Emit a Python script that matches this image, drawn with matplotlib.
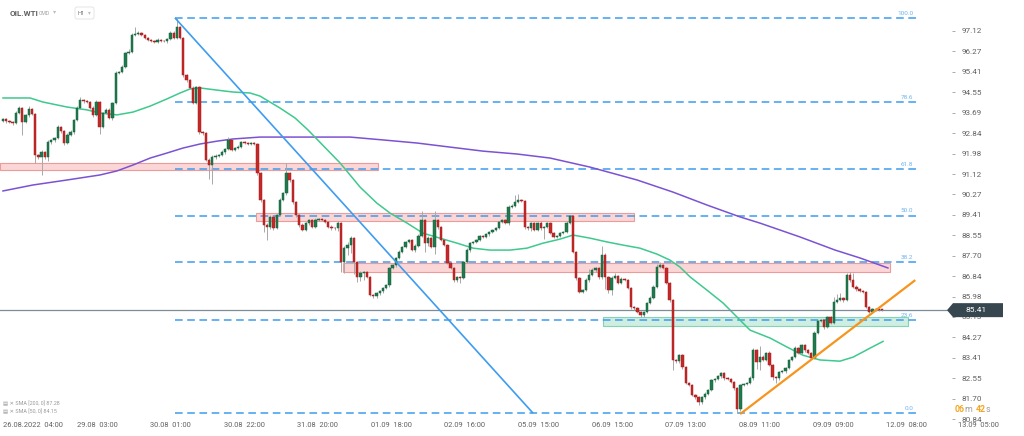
import matplotlib
matplotlib.use("Agg")
import matplotlib.pyplot as plt
from matplotlib.patches import Rectangle, Polygon, FancyBboxPatch
from matplotlib.transforms import blended_transform_factory, IdentityTransform

plt.rcParams['font.family'] = ['Roboto', 'DejaVu Sans']

W, H, DPI = 1024, 436, 100

# ---------------- data ----------------
symbol = "OIL.WTI"
market = "CMD"
interval = "H1"

first_open = 93.34
closes = [
    93.43, 93.34, 93.30, 93.26, 93.68, 93.89, 93.30, 93.60, 93.85, 93.64,
    91.92, 91.83, 92.04, 91.83, 92.46, 92.55, 92.63, 93.09, 92.92, 92.42,
    92.76, 92.88, 93.39, 93.89, 94.22, 94.18, 94.14, 93.89, 93.60, 94.14,
    93.09, 93.68, 93.81, 93.47, 94.10, 95.36, 95.40, 95.61, 96.20, 96.24,
    96.95, 96.99, 97.04, 96.95, 96.83, 96.74, 96.70, 96.66, 96.74, 96.70,
    96.69, 96.78, 97.04, 96.83, 97.29, 96.83, 95.27, 95.06, 94.73, 94.10,
    94.77, 92.88, 92.84, 91.71, 91.50, 91.83, 91.88, 91.92, 92.04, 92.17,
    92.55, 92.13, 92.21, 92.25, 92.46, 92.42, 92.40, 92.42, 92.38, 91.16,
    90.03, 88.98, 88.90, 89.32, 88.85, 89.40, 90.03, 90.32, 91.16, 90.87,
    89.94, 89.40, 88.98, 88.77, 89.06, 89.19, 88.90, 89.19, 89.23, 89.19,
    89.11, 88.90, 88.85, 88.84, 89.06, 87.43, 88.01, 88.14, 88.43, 87.43,
    86.80, 86.97, 87.01, 86.80, 86.04, 86.00, 86.13, 86.21, 86.34, 86.46,
    87.18, 87.30, 87.60, 87.85, 88.06, 88.27, 88.35, 87.93, 88.10, 88.52,
    89.19, 88.22, 88.43, 88.06, 89.19, 88.90, 88.35, 88.14, 87.39, 87.18,
    86.67, 86.80, 86.76, 87.43, 87.93, 88.22, 88.27, 88.35, 88.52, 88.48,
    88.60, 88.69, 88.77, 88.85, 89.11, 89.19, 89.06, 89.74, 89.78, 89.94,
    90.03, 89.99, 88.90, 88.85, 89.06, 88.77, 89.06, 88.85, 88.90, 89.06,
    88.64, 88.48, 88.52, 88.64, 88.69, 89.06, 89.36, 87.85, 86.76, 86.17,
    86.25, 86.67, 86.88, 87.09, 87.18, 86.80, 87.72, 86.80, 86.25, 86.76,
    86.84, 86.55, 86.71, 86.67, 86.34, 85.54, 85.50, 85.33, 85.20, 85.33,
    85.71, 85.92, 86.38, 87.22, 87.30, 87.18, 86.55, 85.83, 83.32, 83.28,
    83.53, 83.02, 82.35, 82.27, 81.85, 81.76, 81.55, 81.76, 81.89, 82.06,
    82.48, 82.52, 82.64, 82.77, 82.56, 82.52, 82.39, 82.14, 81.26, 82.27,
    82.31, 82.35, 82.56, 83.73, 83.23, 83.44, 83.32, 83.61, 83.11, 82.60,
    82.56, 82.81, 82.85, 82.98, 83.32, 83.44, 83.82, 83.61, 83.94, 83.73,
    83.61, 83.40, 84.45, 84.95, 84.99, 84.70, 85.12, 84.87, 85.75, 85.83,
    85.92, 85.83, 86.88, 86.67, 86.38, 86.29, 86.21, 86.17, 85.54, 85.33,
    85.46, 85.44, 85.42, 85.41,
]
wick_up = [
    0.05,0.04,0.06,0.05,0.08,0.10,0.06,0.05,0.12,0.06,0.05,0.06,0.10,0.05,0.08,0.06,0.05,0.10,0.06,0.05,
    0.06,0.08,0.05,0.10,0.12,0.06,0.05,0.06,0.08,0.10,0.06,0.05,0.08,0.06,0.05,0.10,0.06,0.08,0.05,0.12,
    0.10,0.30,0.06,0.05,0.06,0.05,0.06,0.05,0.08,0.06,0.05,0.06,0.10,0.08,0.38,0.06,0.05,0.06,0.05,0.10,
    0.06,0.05,0.06,0.05,0.10,0.08,0.06,0.05,0.10,0.06,0.12,0.06,0.05,0.08,0.05,0.06,0.05,0.06,0.05,0.06,
    0.06,0.05,0.08,0.10,0.06,0.05,0.08,0.06,0.42,0.06,0.05,0.06,0.05,0.08,0.06,0.05,0.06,0.08,0.05,0.06,
    0.05,0.06,0.08,0.05,0.10,0.06,0.08,0.12,0.10,0.06,0.05,0.08,0.06,0.05,0.06,0.05,0.06,0.05,0.06,0.05,
    0.06,0.05,0.06,0.08,0.05,0.06,0.05,0.06,0.08,0.10,0.40,0.06,0.08,0.06,0.38,0.06,0.05,0.06,0.05,0.06,
    0.05,0.06,0.05,0.06,0.08,0.05,0.06,0.05,0.06,0.05,0.06,0.05,0.06,0.05,0.06,0.05,0.06,0.10,0.08,0.30,
    0.25,0.06,0.05,0.06,0.05,0.06,0.05,0.08,0.06,0.05,0.06,0.05,0.06,0.05,0.06,0.08,0.06,0.05,0.06,0.05,
    0.06,0.10,0.25,0.08,0.06,0.05,0.40,0.08,0.06,0.10,0.12,0.06,0.08,0.05,0.06,0.05,0.06,0.05,0.06,0.05,
    0.06,0.08,0.10,0.12,0.15,0.06,0.05,0.06,0.05,0.06,0.05,0.06,0.05,0.06,0.05,0.06,0.05,0.06,0.08,0.06,
    0.05,0.06,0.05,0.06,0.05,0.06,0.05,0.06,0.05,0.06,0.05,0.06,0.08,0.10,0.06,0.45,0.08,0.06,0.10,0.06,
    0.05,0.06,0.05,0.06,0.05,0.06,0.08,0.06,0.05,0.06,0.05,0.06,0.08,0.06,0.05,0.06,0.05,0.06,0.20,0.25,
    0.20,0.06,0.10,0.15,0.30,0.10,0.06,0.05,0.06,0.05,0.06,0.05,0.04,0.04,
]
wick_dn = [
    0.05,0.06,0.05,0.10,0.06,0.05,0.55,0.06,0.08,0.05,0.35,0.06,0.75,0.10,0.15,0.06,0.08,0.05,0.06,0.10,
    0.06,0.05,0.08,0.06,0.05,0.06,0.05,0.06,0.10,0.06,0.30,0.06,0.05,0.06,0.10,0.06,0.05,0.06,0.05,0.06,
    0.05,0.06,0.05,0.06,0.05,0.06,0.05,0.06,0.05,0.06,0.05,0.06,0.05,0.06,0.05,0.06,0.10,0.08,0.06,0.05,
    0.06,0.10,0.08,0.06,0.60,0.80,0.10,0.06,0.05,0.06,0.05,0.06,0.05,0.06,0.05,0.06,0.05,0.06,0.05,0.06,
    0.10,0.30,0.55,0.08,0.06,0.05,0.06,0.05,0.06,0.08,0.06,0.10,0.08,0.06,0.05,0.06,0.05,0.06,0.05,0.06,
    0.05,0.06,0.08,0.05,0.10,0.40,0.45,0.30,0.35,0.50,0.20,0.15,0.30,0.06,0.05,0.10,0.06,0.08,0.06,0.05,
    0.06,0.05,0.06,0.05,0.06,0.05,0.06,0.05,0.06,0.05,0.06,0.35,0.10,0.06,0.30,0.08,0.06,0.05,0.06,0.05,
    0.06,0.10,0.20,0.06,0.05,0.06,0.05,0.06,0.05,0.06,0.05,0.06,0.05,0.06,0.05,0.06,0.05,0.06,0.05,0.06,
    0.05,0.06,0.08,0.06,0.10,0.06,0.05,0.06,0.45,0.06,0.05,0.06,0.05,0.06,0.05,0.06,0.05,0.06,0.10,0.06,
    0.06,0.05,0.06,0.05,0.06,0.08,0.10,0.50,0.12,0.20,0.06,0.05,0.06,0.05,0.06,0.10,0.08,0.06,0.08,0.06,
    0.05,0.06,0.05,0.06,0.05,0.06,0.05,0.06,0.40,0.10,0.08,0.06,0.05,0.06,0.05,0.06,0.10,0.08,0.06,0.05,
    0.06,0.10,0.05,0.06,0.08,0.06,0.05,0.06,0.17,0.06,0.05,0.06,0.05,0.06,0.30,0.35,0.06,0.05,0.06,0.10,
    0.20,0.06,0.05,0.06,0.05,0.06,0.05,0.06,0.05,0.06,0.05,0.06,0.05,0.06,0.05,0.06,0.05,0.06,0.05,0.06,
    0.05,0.06,0.05,0.06,0.05,0.06,0.05,0.06,0.05,0.06,0.05,0.06,0.04,0.04,
]

x_labels = ["26.08.2022  04:00", "29.08  03:00", "30.08  01:00", "30.08  22:00",
            "31.08  20:00", "01.09  18:00", "02.09  16:00", "05.09  15:00",
            "06.09  15:00", "07.09  13:00", "08.09  11:00", "09.09  09:00",
            "12.09  08:00"]
next_time_label = "13.09  05:00"

y_ticks = [97.12, 96.27, 95.41, 94.55, 93.69, 92.84, 91.98, 91.12, 90.27, 89.41,
           88.55, 87.70, 86.84, 85.98, 85.13, 84.27, 83.41, 82.55, 81.70, 80.84]

fib_levels = [0.0, 23.6, 38.2, 50.0, 61.8, 78.6, 100.0]

sma50_x = [0, 8.4, 12.4, 19.9, 26.1, 30.1, 35.4, 40.4, 45.7, 50.9, 55, 58.1, 61.2, 66.5,
           71.4, 76.7, 79.8, 86, 90.7, 94.7, 104.7, 110.9, 116.1, 120.2, 125.5, 130.4,
           135.7, 141, 146, 151.2, 157.5, 162.7, 167.7, 173, 177, 182.3, 187.6, 192.5,
           197.8, 203.1, 207.1, 210.2, 213.4, 218.6, 223.6, 228.9, 232, 238.2, 243.5,
           248.4, 253.7, 259.9, 264, 269.3, 273.3]
sma50_v = [94.31, 94.31, 94.14, 93.93, 93.81, 93.68, 93.60, 93.72, 93.97, 94.27, 94.52,
           94.69, 94.73, 94.64, 94.56, 94.52, 94.39, 93.89, 93.47, 92.97, 91.58, 90.57,
           89.90, 89.48, 89.06, 88.64, 88.43, 88.22, 88.01, 87.93, 87.93, 88.01, 88.22,
           88.39, 88.56, 88.43, 88.27, 88.14, 88.01, 87.76, 87.51, 87.22, 86.80, 86.25,
           85.71, 84.99, 84.57, 84.24, 83.86, 83.52, 83.32, 83.27, 83.44, 83.82, 84.10]

sma200_x = [0, 9.3, 19.9, 30.1, 35.4, 40.4, 45.7, 50.9, 55.9, 61.2, 66.5, 71.4, 79.8,
            92.2, 107.8, 118, 128.6, 138.8, 149.1, 159.6, 169.9, 182.3, 196.9, 208.1,
            218.6, 228.9, 235.1, 247.5, 258.4, 266.1, 274.8]
sma200_v = [90.41, 90.66, 90.87, 91.08, 91.25, 91.50, 91.79, 92.00, 92.21, 92.38, 92.50,
            92.59, 92.67, 92.67, 92.67, 92.55, 92.42, 92.25, 92.08, 91.96, 91.79, 91.41,
            90.87, 90.36, 89.82, 89.32, 89.06, 88.48, 87.93, 87.60, 87.18]

zone_x0 = [-1.0, 78.6, 105.6, 186.3]
zone_x1 = [116.5, 196.0, 275.5, 281.0]
zone_top = [91.60, 89.48, 87.39, 85.12]
zone_bot = [91.27, 89.15, 87.01, 84.74]
zone_kind = ["resistance", "resistance", "resistance", "support"]

down_trend_x = [53.4, 164.6]
down_trend_y = [97.67, 81.09]
up_trend_x = [228.9, 283.3]
up_trend_y = [81.05, 86.67]

last_price = 85.41
sma200_last = 87.28
sma50_last = 84.15
countdown_parts = [("06", "#f5a623", "bold"), ("m ", "#9e9e9e", "normal"),
                   ("42", "#f5a623", "bold"), ("s", "#9e9e9e", "normal")]

# ---------------- figure ----------------
fig = plt.figure(figsize=(W / DPI, H / DPI), dpi=DPI)
fig.patch.set_facecolor("white")
AX_RIGHT, AX_BOTTOM = 952, 421
ax = fig.add_axes([0, (H - AX_BOTTOM) / H, AX_RIGHT / W, AX_BOTTOM / H])
ax.set_facecolor("white")
ax.set_xlim(-0.93, 294.7)
ax.set_ylim(80.76, 98.42)
for s in ax.spines.values():
    s.set_visible(False)

n = len(closes)
xs = list(range(n))
opens = [first_open] + closes[:-1]
highs = [max(o, c) + u for o, c, u in zip(opens, closes, wick_up)]
lows = [min(o, c) - d for o, c, d in zip(opens, closes, wick_dn)]

# zones
for x0, x1, t, b, k in zip(zone_x0, zone_x1, zone_top, zone_bot, zone_kind):
    if k == "support":
        fc, ec = "#cdeee0", "#86d3b2"
    else:
        fc, ec = "#fbd6d6", "#ee9a9a"
    ax.add_patch(Rectangle((x0, b), x1 - x0, t - b, facecolor=fc, edgecolor=ec,
                           linewidth=0.8, zorder=1))

# fibonacci levels
hi = max(highs)
lo = min(lows)
i_hi = highs.index(hi)
fib_x0 = i_hi - 0.6
fib_x1 = 283.8
for lvl in fib_levels:
    p = lo + (hi - lo) * lvl / 100.0
    ax.plot([fib_x0, fib_x1], [p, p], color="#3d9cf0", lw=1.1,
            ls=(0, (5, 3)), zorder=2)
    ax.text(282.6, p + 0.2, f"{lvl:.1f}", ha="right", va="center",
            fontsize=4.6, color="#6fb4f2", zorder=6)

# moving averages
ax.plot(sma200_x, sma200_v, color="#7b52d3", lw=1.1, zorder=3)
ax.plot(sma50_x, sma50_v, color="#3ec98e", lw=1.1, zorder=3)

# current price line
ax.axhline(last_price, color="#7d8d97", lw=0.9, zorder=3)

# candles
up_col, dn_col = "#1f7a4d", "#c62828"
colors = [up_col if c >= o else dn_col for o, c in zip(opens, closes)]
edges = ["#15603b" if c >= o else "#a31d1d" for o, c in zip(opens, closes)]
ax.vlines(xs, lows, highs, color="#a8a8a8", lw=0.7, zorder=4)
bottoms = [min(o, c) for o, c in zip(opens, closes)]
heights = [max(abs(c - o), 0.03) for o, c in zip(opens, closes)]
ax.bar(xs, heights, bottom=bottoms, width=0.72, color=colors, edgecolor=edges,
       linewidth=0.35, zorder=5)

# trend lines
ax.plot(down_trend_x, down_trend_y, color="#3d9cf0", lw=1.2, zorder=6,
        solid_capstyle="butt")
ax.plot(up_trend_x, up_trend_y, color="#f7941d", lw=1.6, zorder=6,
        solid_capstyle="butt")

# y axis on right
ax.yaxis.tick_right()
ax.set_yticks(y_ticks)
ax.set_yticklabels([f"{v:.2f}" for v in y_ticks])
ax.tick_params(axis="y", length=2.5, width=0.6, color="#9e9e9e", pad=4.5,
               labelsize=5.9, labelcolor="#616161")
ax.set_xticks([])

# x labels
trans = blended_transform_factory(ax.transData, ax.transAxes)
ylab = -4.5 / AX_BOTTOM
for k, lab in enumerate(x_labels):
    if k == 0:
        ax.text(0, ylab, lab, transform=trans, ha="left", va="center",
                fontsize=5.4, color="#616161", clip_on=False)
    else:
        ax.text(29.2 + 22.85 * (k - 1), ylab, lab, transform=trans, ha="center",
                va="center", fontsize=5.4, color="#616161", clip_on=False)
fig.text(978 / W, (H - 425.5) / H, next_time_label, ha="center", va="center",
         fontsize=5.4, color="#616161")

# price box
ID = IdentityTransform()
yp = ax.transData.transform((0, last_price))[1]
box = Polygon([(947, yp), (953, yp + 7), (1003, yp + 7), (1003, yp - 7), (953, yp - 7)],
              closed=True, facecolor="#37474f", edgecolor="none", transform=ID)
fig.add_artist(box)
fig.text(976, yp, f"{last_price:.2f}", transform=ID, ha="center", va="center",
         fontsize=6.0, color="white", zorder=5)

# countdown (pieces placed one after another)
renderer = fig.canvas.get_renderer()
cx = 955
for txt, col, wt in countdown_parts:
    t = fig.text(cx, H - 409, txt, transform=ID, ha="left", va="center",
                 fontsize=6.4, color=col, fontweight=wt)
    bb = t.get_window_extent(renderer=renderer)
    cx = bb.x1 + 0.3

# header
fig.text(10, H - 13, symbol, transform=ID, ha="left", va="center",
         fontsize=5.8, fontweight="bold", color="#5f5f5f")
fig.text(39, H - 13, market, transform=ID, ha="left", va="center",
         fontsize=3.8, color="#a0a0a0")
fig.text(53, H - 12, "▾", transform=ID, ha="left", va="center",
         fontsize=4.5, color="#bdbdbd")
fig.add_artist(FancyBboxPatch((75, H - 19), 19, 12,
                              boxstyle="round,pad=0,rounding_size=2",
                              facecolor="white", edgecolor="#e0e0e0", lw=0.6,
                              transform=ID))
fig.text(77.5, H - 13, interval, transform=ID, ha="left", va="center",
         fontsize=4.0, color="#707070")
fig.text(87.5, H - 12.5, "▾", transform=ID, ha="left", va="center",
         fontsize=4.0, color="#bdbdbd")

# SMA legend
fig.text(3, H - 404, f"▤ ✕ SMA [200, 0] {sma200_last:.2f}", transform=ID,
         ha="left", va="center", fontsize=3.9, color="#9a9a9a")
fig.text(3, H - 412, f"▤ ✕ SMA [50, 0] {sma50_last:.2f}", transform=ID,
         ha="left", va="center", fontsize=3.9, color="#9a9a9a")

fig.savefig("out.png", dpi=DPI)
